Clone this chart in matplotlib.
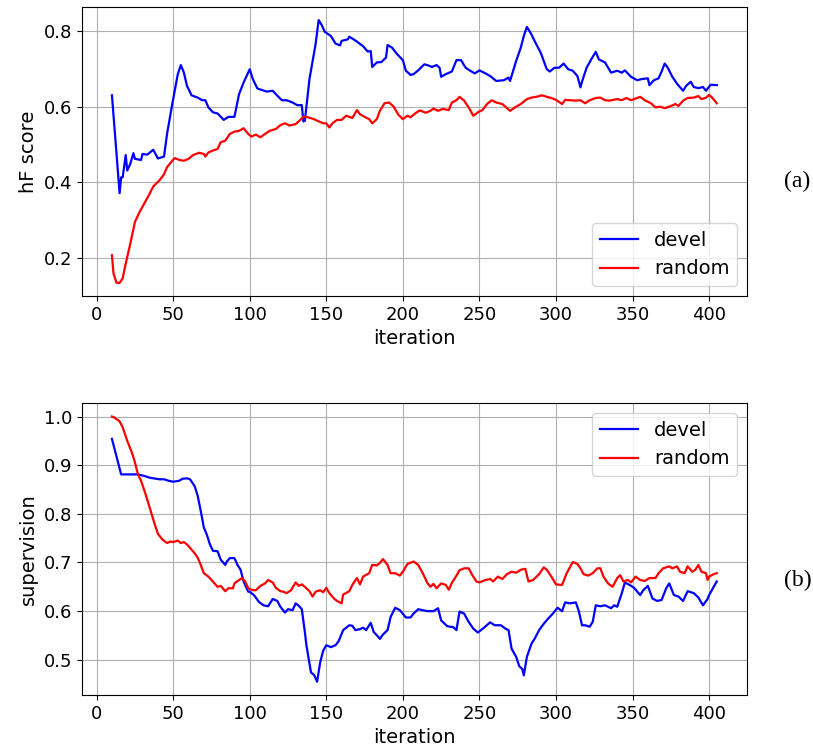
import matplotlib
matplotlib.use('Agg')
from matplotlib import pyplot as plt

# (a) hF score
a_devel_it = [10, 15, 16, 17, 19, 20, 22, 24, 25, 29, 30, 33, 37, 40, 44, 46, 49, 53, 55, 57,
              59, 62, 66, 69, 71, 73, 76, 79, 83, 86, 90, 93, 96, 100, 102, 105, 108, 111, 115, 118,
              121, 124, 128, 131, 134, 135, 136, 139, 143, 145, 147, 149, 153, 156, 159, 160, 164, 165, 169, 174,
              177, 179, 180, 183, 186, 189, 190, 193, 196, 200, 202, 205, 207, 210, 214, 216, 219, 222, 224, 225,
              228, 232, 235, 238, 241, 244, 247, 250, 254, 257, 261, 266, 269, 270, 274, 277, 279, 281, 284, 286,
              290, 294, 296, 299, 302, 305, 308, 311, 314, 316, 317, 320, 323, 326, 328, 332, 336, 340, 343, 345,
              349, 353, 356, 360, 361, 364, 367, 369, 371, 373, 376, 379, 383, 385, 388, 390, 393, 396, 398, 401,
              405]
a_devel = [0.630, 0.371, 0.413, 0.413, 0.472, 0.431, 0.449, 0.477, 0.462, 0.459, 0.475, 0.473, 0.486, 0.463, 0.468, 0.528, 0.598, 0.686, 0.710, 0.690,
           0.655, 0.630, 0.624, 0.617, 0.617, 0.598, 0.585, 0.582, 0.565, 0.573, 0.573, 0.633, 0.664, 0.699, 0.673, 0.648, 0.644, 0.640, 0.642, 0.629,
           0.617, 0.617, 0.611, 0.604, 0.604, 0.561, 0.563, 0.673, 0.765, 0.829, 0.816, 0.798, 0.787, 0.767, 0.762, 0.774, 0.778, 0.785, 0.775, 0.760,
           0.746, 0.747, 0.705, 0.717, 0.718, 0.730, 0.763, 0.756, 0.740, 0.723, 0.695, 0.684, 0.686, 0.696, 0.712, 0.710, 0.705, 0.710, 0.703, 0.679,
           0.686, 0.693, 0.723, 0.723, 0.703, 0.695, 0.688, 0.696, 0.688, 0.681, 0.668, 0.670, 0.677, 0.668, 0.721, 0.756, 0.787, 0.811, 0.791, 0.774,
           0.743, 0.699, 0.693, 0.703, 0.703, 0.714, 0.699, 0.695, 0.681, 0.651, 0.666, 0.703, 0.725, 0.745, 0.725, 0.717, 0.690, 0.695, 0.690, 0.696,
           0.679, 0.670, 0.673, 0.675, 0.657, 0.670, 0.675, 0.693, 0.714, 0.703, 0.679, 0.661, 0.642, 0.655, 0.666, 0.652, 0.649, 0.652, 0.642, 0.658,
           0.657]

a_random_it = [10, 11, 13, 15, 17, 19, 22, 25, 28, 31, 34, 37, 41, 44, 46, 49, 51, 54, 57, 60,
               63, 67, 70, 71, 73, 76, 79, 81, 84, 87, 90, 93, 96, 99, 101, 104, 107, 110, 113, 117,
               120, 123, 126, 130, 133, 135, 138, 142, 145, 148, 150, 152, 154, 157, 160, 163, 167, 170, 172, 175,
               178, 180, 183, 185, 188, 191, 194, 197, 200, 203, 205, 208, 211, 215, 218, 220, 223, 226, 230, 232,
               235, 237, 240, 243, 246, 249, 252, 255, 258, 261, 265, 268, 270, 274, 277, 281, 284, 287, 291, 294,
               297, 300, 304, 306, 309, 313, 316, 319, 322, 326, 329, 332, 335, 340, 343, 346, 349, 353, 355, 358,
               362, 365, 368, 371, 374, 378, 380, 383, 386, 390, 393, 395, 398, 400, 402, 405]
a_random = [0.207, 0.159, 0.134, 0.134, 0.146, 0.185, 0.238, 0.295, 0.321, 0.343, 0.365, 0.389, 0.405, 0.421, 0.440, 0.455, 0.464, 0.459, 0.457, 0.462,
            0.472, 0.478, 0.475, 0.468, 0.479, 0.484, 0.488, 0.506, 0.510, 0.528, 0.534, 0.536, 0.543, 0.528, 0.521, 0.526, 0.519, 0.528, 0.536, 0.541,
            0.551, 0.556, 0.550, 0.554, 0.565, 0.573, 0.572, 0.567, 0.561, 0.556, 0.556, 0.545, 0.556, 0.565, 0.565, 0.576, 0.570, 0.591, 0.580, 0.573,
            0.567, 0.556, 0.567, 0.589, 0.609, 0.611, 0.600, 0.579, 0.567, 0.576, 0.572, 0.582, 0.590, 0.584, 0.589, 0.595, 0.589, 0.594, 0.591, 0.611,
            0.617, 0.626, 0.616, 0.598, 0.576, 0.585, 0.591, 0.607, 0.617, 0.611, 0.607, 0.596, 0.589, 0.600, 0.607, 0.620, 0.624, 0.626, 0.630, 0.626,
            0.623, 0.618, 0.607, 0.618, 0.617, 0.616, 0.617, 0.609, 0.617, 0.623, 0.624, 0.617, 0.616, 0.620, 0.617, 0.623, 0.617, 0.623, 0.626, 0.617,
            0.609, 0.598, 0.600, 0.596, 0.600, 0.607, 0.602, 0.616, 0.623, 0.624, 0.628, 0.620, 0.624, 0.631, 0.624, 0.609]

# (b) supervision
b_devel_it = [10, 16, 20, 27, 31, 35, 41, 44, 47, 50, 54, 56, 59, 61, 64, 66, 68, 70, 72, 74,
              76, 79, 81, 84, 85, 87, 90, 92, 94, 96, 99, 100, 103, 106, 109, 112, 115, 118, 120, 123,
              125, 128, 130, 132, 134, 136, 137, 140, 142, 144, 146, 148, 150, 153, 156, 158, 161, 165, 167, 169,
              172, 174, 176, 179, 181, 184, 185, 187, 190, 192, 195, 198, 202, 205, 207, 210, 213, 216, 220, 223,
              225, 229, 233, 235, 237, 240, 243, 246, 249, 253, 257, 260, 264, 267, 269, 271, 274, 276, 278, 279,
              281, 284, 286, 289, 292, 295, 298, 301, 304, 306, 309, 313, 315, 317, 319, 322, 324, 326, 329, 332,
              336, 338, 340, 343, 345, 348, 351, 355, 357, 360, 363, 366, 369, 372, 374, 377, 380, 383, 386, 390,
              393, 396, 399, 400, 403, 405]
b_devel = [0.954, 0.881, 0.881, 0.881, 0.878, 0.874, 0.871, 0.871, 0.868, 0.866, 0.868, 0.872, 0.873, 0.871, 0.857, 0.837, 0.806, 0.772, 0.757, 0.737,
           0.724, 0.723, 0.706, 0.695, 0.702, 0.709, 0.709, 0.695, 0.685, 0.661, 0.640, 0.640, 0.632, 0.619, 0.612, 0.610, 0.625, 0.621, 0.609, 0.597,
           0.604, 0.602, 0.616, 0.611, 0.604, 0.557, 0.530, 0.474, 0.469, 0.455, 0.495, 0.519, 0.530, 0.526, 0.530, 0.538, 0.561, 0.571, 0.570, 0.561,
           0.563, 0.566, 0.561, 0.576, 0.557, 0.547, 0.543, 0.552, 0.561, 0.588, 0.607, 0.602, 0.587, 0.587, 0.595, 0.604, 0.602, 0.600, 0.600, 0.606,
           0.581, 0.569, 0.567, 0.561, 0.599, 0.595, 0.578, 0.564, 0.556, 0.566, 0.577, 0.571, 0.571, 0.564, 0.561, 0.523, 0.506, 0.487, 0.481, 0.468,
           0.506, 0.533, 0.543, 0.561, 0.574, 0.585, 0.595, 0.607, 0.600, 0.618, 0.616, 0.618, 0.599, 0.571, 0.571, 0.568, 0.578, 0.612, 0.610, 0.612,
           0.606, 0.612, 0.609, 0.637, 0.659, 0.654, 0.648, 0.633, 0.643, 0.652, 0.626, 0.621, 0.623, 0.647, 0.657, 0.633, 0.630, 0.621, 0.641, 0.637,
           0.628, 0.612, 0.625, 0.633, 0.650, 0.661]

b_random_it = [10, 12, 15, 17, 20, 23, 25, 27, 29, 32, 35, 38, 40, 43, 46, 48, 50, 53, 55, 57,
               59, 61, 64, 66, 68, 70, 73, 77, 79, 81, 84, 86, 89, 90, 93, 95, 97, 99, 102, 104,
               107, 110, 112, 115, 117, 120, 122, 124, 127, 130, 132, 134, 136, 139, 141, 143, 146, 148, 150, 152,
               155, 157, 160, 161, 165, 167, 170, 172, 174, 178, 180, 183, 185, 187, 190, 192, 195, 198, 200, 203,
               207, 210, 213, 216, 218, 220, 222, 225, 228, 230, 232, 235, 237, 240, 243, 245, 248, 250, 254, 257,
               259, 262, 265, 268, 271, 274, 277, 280, 282, 285, 289, 292, 294, 297, 300, 304, 307, 311, 314, 316,
               318, 321, 324, 327, 329, 331, 334, 337, 340, 342, 344, 347, 349, 352, 355, 358, 361, 365, 367, 370,
               374, 376, 379, 381, 384, 386, 389, 391, 393, 395, 398, 399, 400, 403, 405]
b_random = [1.000, 0.997, 0.990, 0.978, 0.950, 0.926, 0.906, 0.881, 0.868, 0.840, 0.809, 0.778, 0.759, 0.747, 0.740, 0.743, 0.742, 0.745, 0.740, 0.742,
            0.737, 0.730, 0.719, 0.710, 0.695, 0.678, 0.671, 0.657, 0.650, 0.652, 0.641, 0.647, 0.647, 0.657, 0.664, 0.668, 0.661, 0.647, 0.643, 0.643,
            0.652, 0.657, 0.664, 0.659, 0.648, 0.641, 0.640, 0.637, 0.643, 0.659, 0.652, 0.655, 0.650, 0.641, 0.630, 0.640, 0.643, 0.639, 0.648, 0.637,
            0.626, 0.621, 0.616, 0.634, 0.641, 0.654, 0.668, 0.655, 0.671, 0.678, 0.695, 0.694, 0.699, 0.707, 0.695, 0.678, 0.678, 0.673, 0.681, 0.697,
            0.702, 0.695, 0.678, 0.658, 0.650, 0.656, 0.647, 0.657, 0.654, 0.644, 0.658, 0.673, 0.684, 0.688, 0.688, 0.676, 0.661, 0.659, 0.664, 0.666,
            0.661, 0.671, 0.666, 0.676, 0.681, 0.679, 0.685, 0.687, 0.661, 0.664, 0.676, 0.690, 0.685, 0.671, 0.655, 0.654, 0.678, 0.701, 0.697, 0.688,
            0.676, 0.673, 0.678, 0.688, 0.688, 0.671, 0.657, 0.650, 0.668, 0.674, 0.661, 0.664, 0.659, 0.671, 0.664, 0.662, 0.668, 0.668, 0.678, 0.688,
            0.692, 0.688, 0.692, 0.681, 0.678, 0.692, 0.681, 0.685, 0.695, 0.681, 0.678, 0.664, 0.671, 0.676, 0.678]

fig = plt.figure(figsize=(8.13, 7.48), dpi=100)
ax1 = fig.add_axes([0.1005, 0.6043, 0.8183, 0.3864])
ax2 = fig.add_axes([0.1005, 0.0709, 0.8183, 0.3900])

ax1.plot(a_devel_it, a_devel, color='b', lw=1.6, label='devel')
ax1.plot(a_random_it, a_random, color='r', lw=1.6, label='random')
ax1.set_ylabel('hF score', fontsize=14)
ax1.set_yticks([0.2, 0.4, 0.6, 0.8])
ax1.legend(loc='lower right', fontsize=14)

ax2.plot(b_devel_it, b_devel, color='b', lw=1.6, label='devel')
ax2.plot(b_random_it, b_random, color='r', lw=1.6, label='random')
ax2.set_ylabel('supervision', fontsize=14)
ax2.legend(loc='upper right', fontsize=14)

for ax in (ax1, ax2):
    ax.grid(True)
    ax.set_xlabel('iteration', fontsize=14)
    ax.tick_params(labelsize=13)
    ax.set_xticks(range(0, 401, 50))

fig.text(0.980, 1 - 181.7 / 748, '(a)', fontsize=17, family='Liberation Serif', ha='center', va='center')
fig.text(0.981, 1 - 580 / 748, '(b)', fontsize=17, family='Liberation Serif', ha='center', va='center')

fig.savefig('out.png', dpi=100)
